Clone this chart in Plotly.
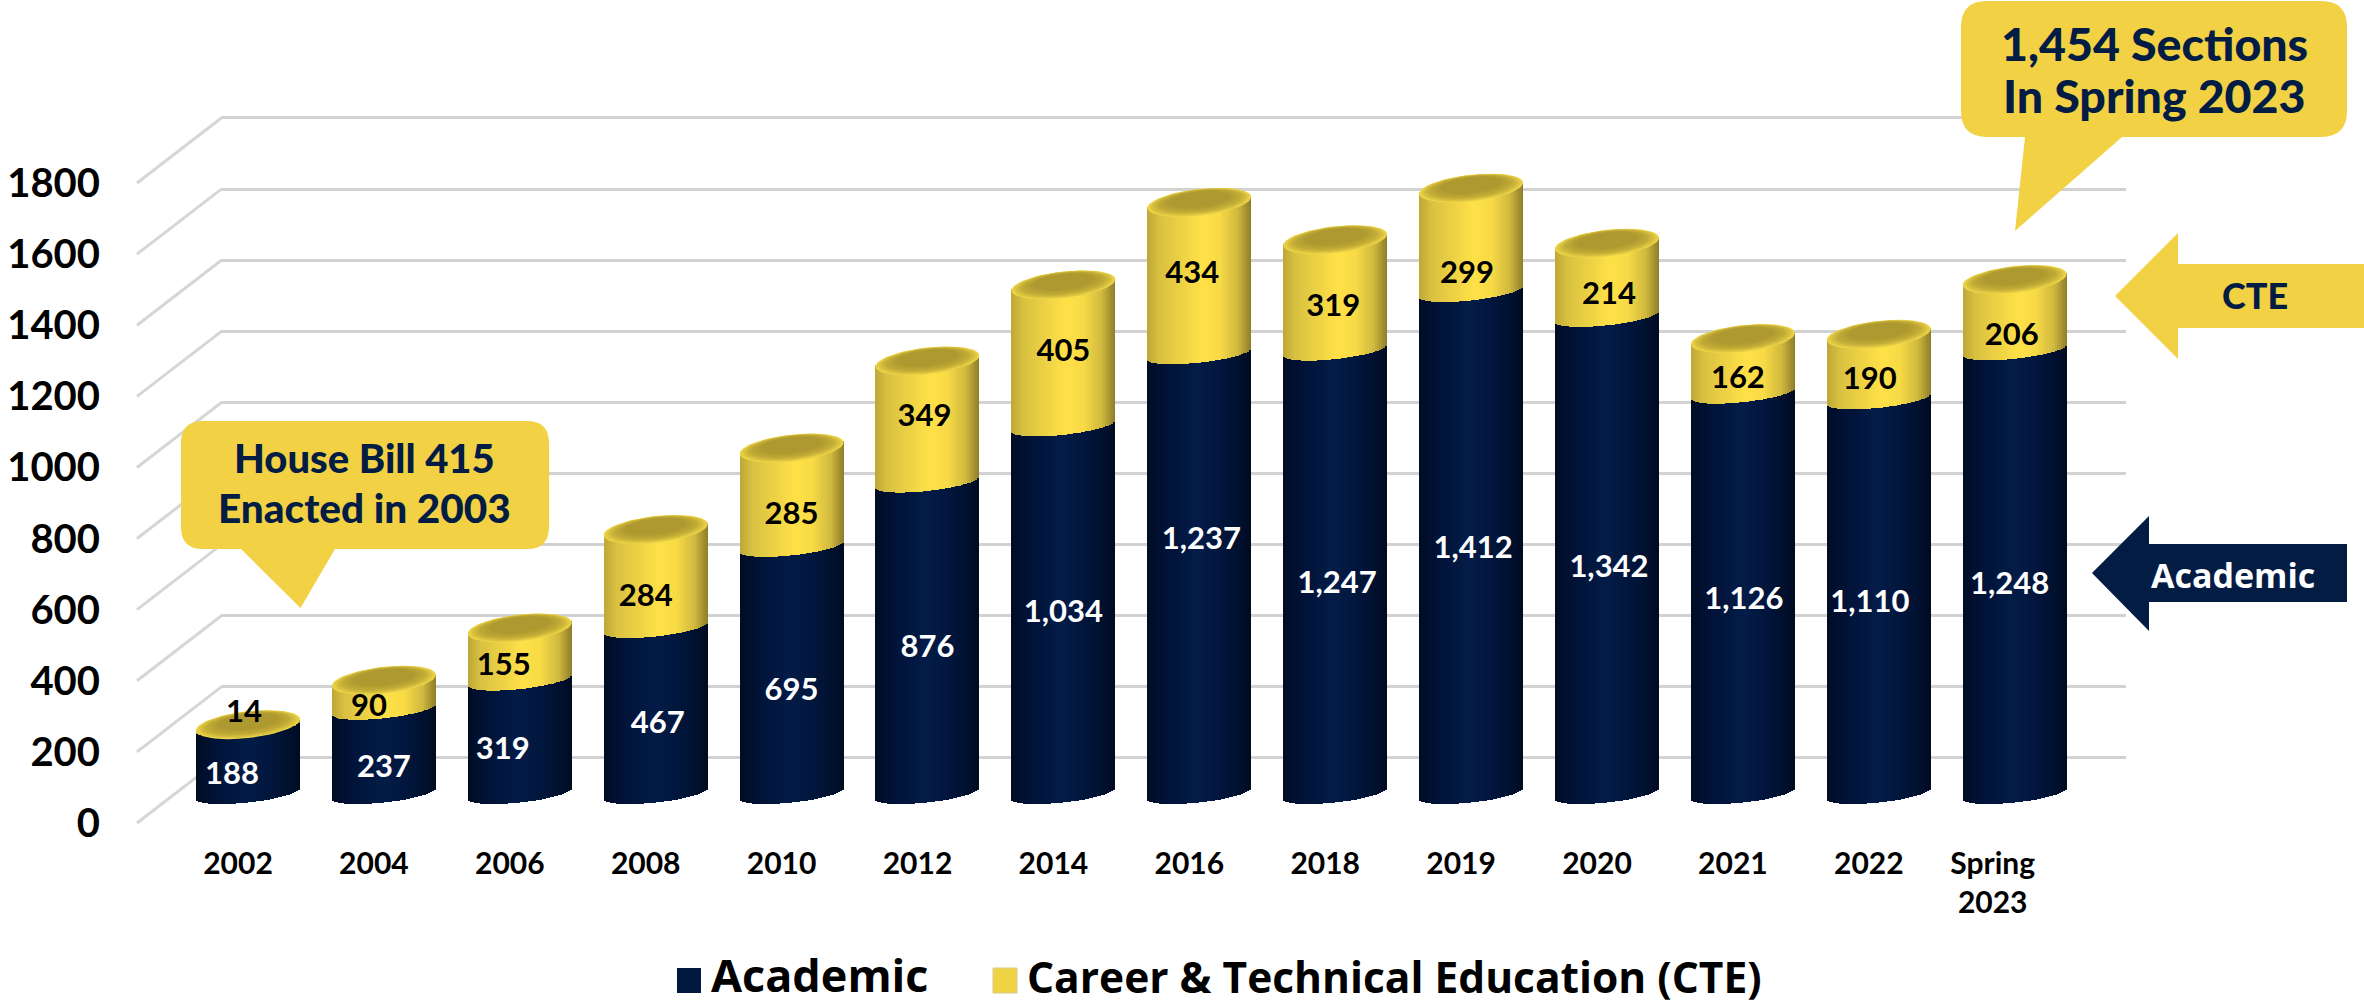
import math
import plotly.graph_objects as go

W, H = 2364, 1004

categories = ["2002","2004","2006","2008","2010","2012","2014","2016","2018","2019","2020","2021","2022","Spring<br>2023"]
academic = [188,237,319,467,695,876,1034,1237,1247,1412,1342,1126,1110,1248]
cte = [14,90,155,284,285,349,405,434,319,299,214,162,190,206]
y_ticks = [0,200,400,600,800,1000,1200,1400,1600,1800]

# hand-placement of the data labels relative to the segment middle (pixels)
acad_dx = [-16,0,-17,2,0,0,0,2,2,2,2,1,-9,-5]
acad_dy = [12,14,10,10,18,7,0,-38,8,2,9,3,3,9]
cte_dx = [-4,-15,-16,-10,0,-3,0,-7,-2,-4,2,-5,-9,-3]
cte_dy = [-14,10,10,16,15,-8,-7,-8,8,30,11,10,10,17]

NAVY = "#031C44"
YELLOW = "#F2D144"
GRID = "#D2D2D2"
FONT = "Lato"

PITCH = 135.9            # px per category
BAR_W = 104.0
X0 = 248.0               # px centre of first bar
KY = 640 / 1800          # px per unit on the cylinder axis
Y0 = 793.5               # px of value 0 on the cylinder axis
ELL_B, ELL_S = 13.4, 5.5 # top-face half height / tilt, px
ARC_B = 9.0              # curvature of bottom edge and series boundary, px
TOP_DROP = 3.0           # the bevelled top face sits slightly below its value, px
A = BAR_W / 2
STRIP = 2.0

def px(x): return x / W
def py(y): return 1 - y / H

def lerp_hex(stops, t):
    for (t0, c0), (t1, c1) in zip(stops, stops[1:]):
        if t <= t1:
            f = (t - t0) / (t1 - t0) if t1 > t0 else 0
            a = [int(c0[i:i+2], 16) for i in (1, 3, 5)]
            b = [int(c1[i:i+2], 16) for i in (1, 3, 5)]
            return "#%02X%02X%02X" % tuple(round(p + (q - p) * f) for p, q in zip(a, b))
    return stops[-1][1]

navy_stops = [(-1,"#000C24"),(-0.6,"#011338"),(0.0,"#031C48"),(0.5,"#01153A"),(0.85,"#000F2A"),(1,"#000A1E")]
yellow_stops = [(-1,"#BDA838"),(-0.75,"#D9C241"),(0.05,"#FFE047"),(0.4,"#F7DA45"),(0.75,"#CFB83E"),(1,"#8E7B2A")]

def arc(u):
    """lower edge of a cylinder slice, in axis units, relative to its centre"""
    return -(ARC_B * math.sqrt(max(0, 1 - u*u)) - ELL_S * u) / KY

# strip offsets; the first strip sets the colour of the legend swatch
n = int(BAR_W / STRIP)
us = [(-1 + (j + .5) * 2 / n) for j in range(n)]
us.sort(key=lambda u: abs(u + 0.3))

def strip_trace(name, lows, highs, stops, legend):
    xs, base, hs, cols = [], [], [], []
    for i, (lo, hi) in enumerate(zip(lows, highs)):
        for u in us:
            xs.append(i + u * A / PITCH)
            b = lo + arc(u)
            base.append(b)
            hs.append(hi - lo)
            cols.append(lerp_hex(stops, u))
    return go.Bar(x=xs, y=hs, base=base, width=STRIP / PITCH, name=name, legend=legend,
                  marker=dict(color=cols, line=dict(width=0)), xaxis="x2", yaxis="y2",
                  hoverinfo="skip", showlegend=True)

totals = [a + c for a, c in zip(academic, cte)]
fig = go.Figure()

# back wall grid
fig.add_trace(go.Scatter(x=[0], y=[0], mode="markers", marker=dict(opacity=0), xaxis="x", yaxis="y",
                         showlegend=False, hoverinfo="skip"))
# left labels
fig.add_trace(go.Scatter(x=[0], y=[0], mode="markers", marker=dict(opacity=0), xaxis="x2", yaxis="y3",
                         showlegend=False, hoverinfo="skip"))

fig.add_trace(strip_trace("Academic", [0]*14, academic, navy_stops, "legend"))
fig.add_trace(strip_trace("Career &amp; Technical Education (CTE)", academic, totals, yellow_stops, "legend2"))

# top faces as concentric ellipses
ring_stops = [(0,"#EDD548"),(0.18,"#D9C13F"),(0.45,"#C2AC37"),(1,"#AE9930")]
RINGS = 14
for k in range(RINGS):
    t = k / (RINGS - 1)
    s = 1 - 0.42 * t
    shift = -3.0 * t + TOP_DROP
    xs, ys = [], []
    for i, tot in enumerate(totals):
        for q in range(73):
            th = 2 * math.pi * q / 72
            xs.append(i + s * A * math.cos(th) / PITCH)
            dy = -(s * ELL_B * math.sin(th)) - ELL_S * s * math.cos(th) + shift
            ys.append(tot - dy / KY)
        xs.append(None); ys.append(None)
    fig.add_trace(go.Scatter(x=xs, y=ys, mode="lines", fill="toself", fillcolor=lerp_hex(ring_stops, t),
                             line=dict(width=0), xaxis="x2", yaxis="y2", showlegend=False, hoverinfo="skip"))

LABEL_KY = 0.3536   # scale the hand offsets above were read against
def label_trace(values, mids, dx, dy, color):
    return go.Scatter(x=[i + d / PITCH for i, d in enumerate(dx)],
                      y=[(LABEL_KY * m - d - 4) / KY for m, d in zip(mids, dy)],
                      text=[f"{v:,}" for v in values], mode="text", textposition="middle center",
                      textfont=dict(family=FONT, size=31, color=color, weight=700),
                      xaxis="x2", yaxis="y2", showlegend=False, hoverinfo="skip")

fig.add_trace(label_trace(academic, [a / 2 for a in academic], acad_dx, acad_dy, "#FFFFFF"))
fig.add_trace(label_trace(cte, [a + c / 2 for a, c in zip(academic, cte)], cte_dx, cte_dy, "#000000"))

shapes = []
# floor/side diagonals
BACK_X, FRONT_X = 221.4, 137.0
for t in y_ticks:
    yb = 758 - t * KY
    shapes.append(dict(type="line", xref="paper", yref="paper", layer="below",
                       x0=px(BACK_X), x1=px(FRONT_X), y0=py(yb), y1=py(yb + 65),
                       line=dict(color="#D6D6D6", width=3)))

def poly(points, color):
    path = "M" + "L".join(f"{px(x):.5f},{py(y):.5f}" for x, y in points) + "Z"
    return dict(type="path", xref="paper", yref="paper", path=path, fillcolor=color, line=dict(width=0), layer="above")

def bubble(x0, y0, x1, y1, r, tail, color):
    (ta, tip, tb) = tail
    P = lambda x, y: f"{px(x):.5f},{py(y):.5f}"
    path = (f"M{P(x0+r,y0)}L{P(x1-r,y0)}Q{P(x1,y0)} {P(x1,y0+r)}L{P(x1,y1-r)}Q{P(x1,y1)} {P(x1-r,y1)}"
            f"L{P(tb,y1)}L{P(*tip)}L{P(ta,y1)}L{P(x0+r,y1)}Q{P(x0,y1)} {P(x0,y1-r)}L{P(x0,y0+r)}Q{P(x0,y0)} {P(x0+r,y0)}Z")
    return dict(type="path", xref="paper", yref="paper", path=path, fillcolor=color, line=dict(width=0), layer="above")

shapes.append(bubble(181, 421, 549, 549, 22, (241, (300.5, 608), 335), YELLOW))
shapes.append(bubble(1961, 1, 2347, 137, 26, (2025, (2015, 231), 2122), YELLOW))
shapes.append(poly([(2115,296),(2178,233),(2178,264),(2364,264),(2364,328),(2178,328),(2178,359)], YELLOW))
shapes.append(poly([(2092,573),(2149,516),(2149,544),(2347,544),(2347,602),(2149,602),(2149,631)], NAVY))
# legend swatches
shapes.append(dict(type="rect", xref="paper", yref="paper", x0=px(677), x1=px(701), y0=py(968), y1=py(993),
                   fillcolor=lerp_hex(navy_stops, us[0]), line=dict(width=0), layer="below"))
shapes.append(dict(type="rect", xref="paper", yref="paper", x0=px(993), x1=px(1017), y0=py(968), y1=py(993),
                   fillcolor=lerp_hex(yellow_stops, us[0]), line=dict(color="#D8C98A", width=1), layer="below"))

def note(x, y, text, size, color=NAVY, family=FONT, weight=900):
    return dict(xref="paper", yref="paper", x=px(x), y=py(y), text=text, showarrow=False,
                xanchor="center", yanchor="middle", font=dict(family=family, size=size, color=color, weight=weight))

annotations = [
    note(364, 458, "House Bill 415", 40),
    note(364, 507, "Enacted in 2003", 40.5),
    note(2154, 43, "1,454 Sections", 46.5),
    note(2154, 95, "In Spring 2023", 46.5),
    note(2255, 295, "CTE", 36),
    note(2233, 575, "Academic", 34, color="#FFFFFF", family="Open Sans", weight=700),
]

def legend_cfg(left, size):
    return dict(orientation="h", x=px(left), xanchor="left", y=py(1011), yanchor="bottom", itemwidth=34,
                font=dict(family="Open Sans", size=size, weight=700, color="#000000"),
                bgcolor="rgba(0,0,0,0)", borderwidth=0)

yc_top = 100; yc_bot = 830   # pixel extent of the cylinder axis
GRID_PAD = 20                # axis units beyond the tick range so the end gridlines are drawn
fig.update_layout(
    template="none",
    width=W, height=H, margin=dict(l=0, r=0, t=0, b=0, pad=0, autoexpand=False),
    paper_bgcolor="white", plot_bgcolor="rgba(0,0,0,0)",
    barmode="overlay", bargap=0, shapes=shapes, annotations=annotations,
    font=dict(family=FONT, color="#000000"),
    showlegend=True,
    legend=legend_cfg(667, 45),
    legend2=legend_cfg(983, 42.5),
    xaxis=dict(domain=[px(BACK_X), px(2126)], range=[0, 1], visible=False, anchor="y"),
    yaxis=dict(domain=[py(758 + GRID_PAD * KY), py(118 - GRID_PAD * KY)], range=[-GRID_PAD, 1800 + GRID_PAD],
               anchor="x", tickvals=y_ticks, showticklabels=False,
               showgrid=True, gridcolor=GRID, gridwidth=3, zeroline=False, showline=False, ticks=""),
    xaxis2=dict(domain=[px(X0 - PITCH/2), px(X0 + 13.5*PITCH)], range=[-0.5, 13.5], anchor="y2",
                tickmode="array", tickvals=[i - 10/PITCH if i < 13 else i - 22/PITCH for i in range(14)],
                ticktext=categories, showgrid=False, zeroline=False, showline=False,
                ticks="outside", ticklen=7, tickcolor="rgba(0,0,0,0)", tickangle=0,
                tickfont=dict(family=FONT, size=30, weight=700, color="#000000")),
    yaxis2=dict(domain=[py(yc_bot), py(yc_top)], range=[(Y0 - yc_bot) / KY, (Y0 - yc_top) / KY], anchor="x2",
                visible=False),
    yaxis3=dict(domain=[py(823), py(183)], range=[0, 1800], anchor="free", position=px(100),
                tickvals=y_ticks, showgrid=False, zeroline=False, showline=False, ticks="",
                tickfont=dict(family=FONT, size=40, weight=700, color="#000000")),
)
fig.write_html("out.html", post_script="document.body.style.margin='0';document.body.style.overflow='hidden';",
               config=dict(displayModeBar=False))
